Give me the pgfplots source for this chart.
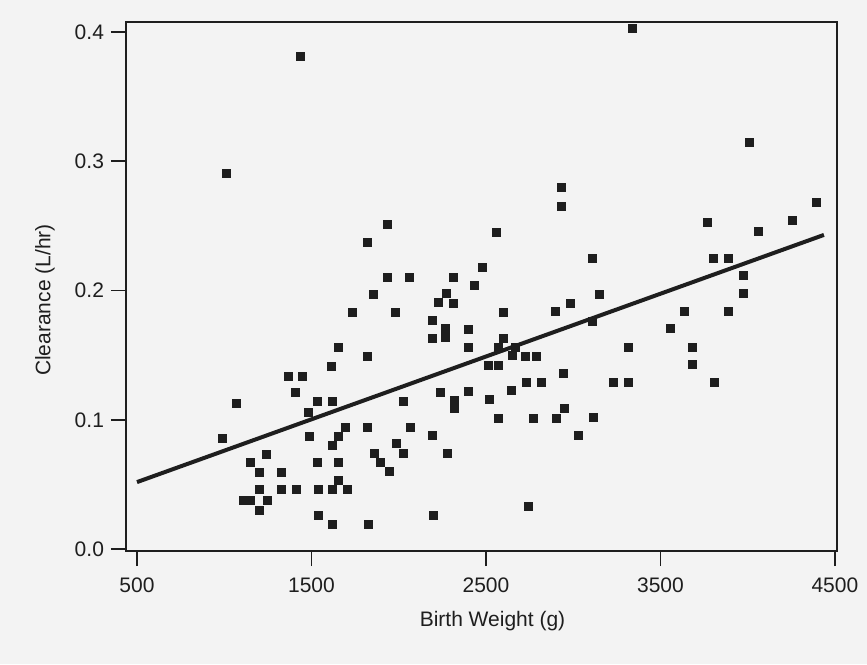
\documentclass[border=0pt]{standalone}
\usepackage{pgfplots}
\pgfplotsset{compat=1.18}
\usepackage{pgfplotstable}
\usepackage{fontspec}
\setmainfont{Liberation Sans}
\definecolor{bg}{HTML}{F3F3F3}
\definecolor{ink}{HTML}{1E1E1E}
\pgfplotstableread{
x y
1010 0.291
1434 0.381
3337 0.403
4007 0.315
3767 0.253
4059 0.246
4254 0.254
4391 0.268
3801 0.225
3887 0.225
3973 0.212
3973 0.198
3148 0.197
3635 0.184
3887 0.184
3555 0.171
3314 0.156
3681 0.156
3681 0.143
3228 0.129
3314 0.129
3807 0.129
2930 0.280
2930 0.265
2557 0.245
3108 0.225
2477 0.218
2311 0.210
2431 0.204
2981 0.190
2311 0.190
2896 0.184
2598 0.183
3108 0.176
2397 0.170
2598 0.163
2397 0.156
2569 0.156
2666 0.156
2649 0.150
2724 0.149
2787 0.149
2512 0.142
2569 0.142
2941 0.136
2729 0.129
2815 0.129
2397 0.122
2643 0.123
2517 0.116
2947 0.109
2569 0.101
2769 0.101
2901 0.101
3113 0.102
3027 0.088
1933 0.251
1818 0.237
1933 0.210
2059 0.210
1853 0.197
2271 0.198
2225 0.191
1732 0.183
1979 0.183
2191 0.177
2265 0.171
2191 0.163
2265 0.164
1652 0.156
1818 0.149
1612 0.141
2236 0.121
2317 0.115
2317 0.109
1532 0.114
1618 0.114
1480 0.106
2024 0.114
1486 0.087
1692 0.094
1818 0.094
2065 0.094
1652 0.087
1618 0.080
2191 0.088
1984 0.082
1858 0.074
2024 0.074
1893 0.067
1944 0.060
2277 0.074
1532 0.067
1652 0.067
1652 0.053
1537 0.046
1618 0.046
1704 0.046
1537 0.026
1618 0.019
1824 0.019
2196 0.026
2741 0.033
1365 0.134
1446 0.134
1405 0.121
1067 0.113
987 0.086
1239 0.073
1148 0.067
1199 0.059
1325 0.059
1325 0.046
1411 0.046
1107 0.038
1148 0.038
1199 0.046
1245 0.038
1199 0.030
}\pts
\pgfplotstableread{
x y
500 0.0518
4437 0.2430
}\fit
\begin{document}
\begin{tikzpicture}
\fill[bg] (-63pt,-56.5pt) rectangle (370.5pt,275.5pt);
\begin{axis}[
  width=355.5pt, height=264.5pt, scale only axis,
  xmin=437, xmax=4512, ymin=-0.0015, ymax=0.4077,
  xtick={500,1500,2500,3500,4500},
  ytick={0,0.1,0.2,0.3,0.4},
  xtick pos=bottom, ytick pos=left, tick align=outside,
  major tick length=7.5pt,
  axis line style={ink, line width=1pt},
  every tick/.style={ink, line width=0.9pt},
  /pgf/number format/assume math mode=true,
  xticklabel style={/pgf/number format/1000 sep={}, font=\fontsize{10.5}{12}\selectfont, text=ink, yshift=-2.5pt},
  yticklabel style={/pgf/number format/fixed, /pgf/number format/fixed zerofill, /pgf/number format/precision=1, font=\fontsize{10.5}{12}\selectfont, text=ink},
  xlabel={Birth Weight (g)},
  ylabel={Clearance (L/hr)},
  xlabel style={at={(axis description cs:0.5,0)}, anchor=center, yshift=-35pt, xshift=5.5pt, font=\fontsize{10.5}{12}\selectfont, text=ink},
  ylabel style={at={(axis description cs:0,0.5)}, anchor=center, xshift=-6.75pt, yshift=40.5pt, font=\fontsize{10.5}{12}\selectfont, text=ink},
  clip=false,
]
\addplot[only marks, mark=square*, mark size=2pt, mark options={fill=ink, draw=ink, line width=0.3pt, rounded corners=0.7pt}] table[x=x,y=y]{\pts};
\addplot[ink, line width=2pt, no marks] table[x=x,y=y]{\fit};
\end{axis}
\end{tikzpicture}
\end{document}
